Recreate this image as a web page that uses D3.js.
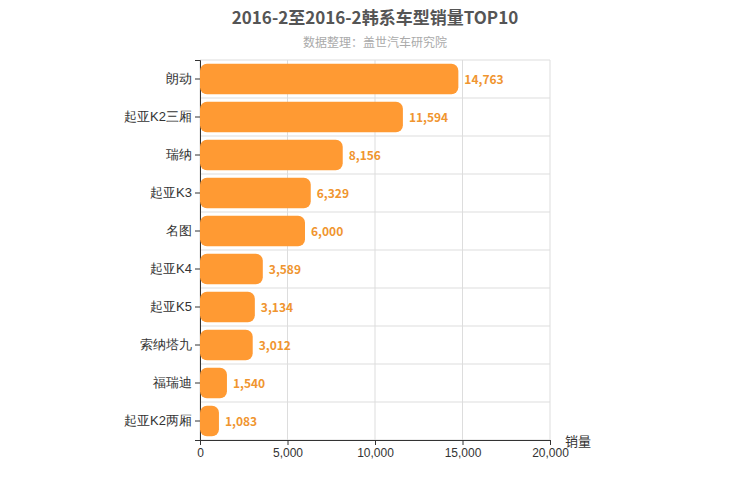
<!DOCTYPE html>
<html><head><meta charset="utf-8">
<script src="https://d3js.org/d3.v7.min.js"></script>
<style>body{margin:0;font-family:"Noto Sans CJK SC","Noto Sans",sans-serif;}</style>
</head><body><div id="chart"></div>
<script>
var categories = ["朗动","起亚K2三厢","瑞纳","起亚K3","名图","起亚K4","起亚K5","索纳塔九","福瑞迪","起亚K2两厢"];
var sales = [14763,11594,8156,6329,6000,3589,3134,3012,1540,1083];
var xTicks = [0,5000,10000,15000,20000];

var w = 750, h = 500,
    mLeft = 200, mRight = 550, mTop = 60, mBottom = 440;

var svg = d3.select("#chart").append("svg").attr("width", w).attr("height", h);

var x = d3.scaleLinear().domain([0, 20000]).range([mLeft, mRight]);
var y = d3.scaleBand().domain(categories).range([mTop, mBottom]).paddingInner(0.2).paddingOuter(0.1);

svg.append("text").attr("x", 375).attr("y", 24).attr("text-anchor", "middle")
    .style("font-size", "17px").style("font-weight", "bold").style("fill", "#555")
    .text("2016-2至2016-2韩系车型销量TOP10");
svg.append("text").attr("x", 375).attr("y", 47).attr("text-anchor", "middle")
    .style("font-size", "12px").style("fill", "#aaa").text("数据整理：盖世汽车研究院");

// grid
svg.selectAll(".vg").data(xTicks).enter().append("line")
    .attr("x1", x).attr("x2", x).attr("y1", mTop).attr("y2", mBottom)
    .attr("stroke", "#ddd");
var step = (mBottom - mTop) / categories.length;
svg.selectAll(".hg").data(d3.range(categories.length + 1)).enter().append("line")
    .attr("x1", mLeft).attr("x2", mRight)
    .attr("y1", function(i) { return mTop + i * step; })
    .attr("y2", function(i) { return mTop + i * step; })
    .attr("stroke", "#ddd");

var xa = svg.append("g").attr("transform", "translate(0," + mBottom + ")")
    .call(d3.axisBottom(x).tickValues(xTicks).tickFormat(d3.format(",")).tickSize(5));
xa.selectAll("text").style("font-size", "12px").style("fill", "#333");
xa.selectAll("line,path").attr("stroke", "#333");

var ya = svg.append("g").attr("transform", "translate(" + mLeft + ",0)")
    .call(d3.axisLeft(y).tickSize(5));
ya.selectAll("text").style("font-size", "13px").style("fill", "#333");
ya.selectAll("line,path").attr("stroke", "#333");

svg.append("text").attr("x", 565).attr("y", 446).style("font-size", "13px").style("fill", "#333").text("销量");

svg.selectAll(".bar").data(sales).enter().append("rect")
    .attr("x", x(0)).attr("y", function(d, i) { return y(categories[i]); })
    .attr("width", function(d) { return x(d) - x(0); })
    .attr("height", y.bandwidth()).attr("rx", 7)
    .attr("fill", "#ff9a33");

svg.selectAll(".lbl").data(sales).enter().append("text")
    .attr("x", function(d) { return x(d) + 6; })
    .attr("y", function(d, i) { return y(categories[i]) + y.bandwidth() / 2 + 5; })
    .style("font-size", "12px").style("font-weight", "bold").style("fill", "#f0952f")
    .text(d3.format(","));
</script></body></html>
